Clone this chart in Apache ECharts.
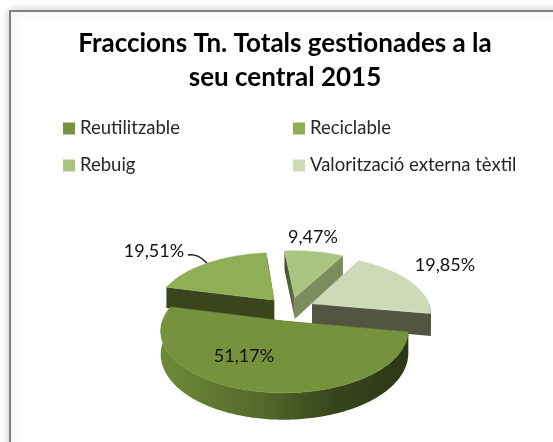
<!DOCTYPE html>
<html>
<head>
<meta charset="utf-8">
<style>
  html, body { margin: 0; padding: 0; background: #fff; }
  #chart { width: 553px; height: 442px; }
</style>
<script src="https://cdn.jsdelivr.net/npm/echarts@6/dist/echarts.min.js"></script>
</head>
<body>
<div id="chart"></div>
<script>
const titleText = 'Fraccions Tn. Totals gestionades a la\nseu central 2015';
const categories = ['Reutilitzable', 'Reciclable', 'Rebuig', 'Valorització externa tèxtil'];
const values = [51.17, 19.51, 9.47, 19.85];

// styling, same order as categories
const topColors = ['#76923c', '#8fae55', '#abc482', '#cdd9b7'];
const edgeColors = ['#3a451e', '#3a451e', '#7b8d5c', '#52553f'];
const labelAt = [[244, 356], [154, 251], [313, 237], [445, 265]];
const paintOrder = [2, 1, 3, 0];

// the tilted disc with a bit of perspective
const disc = { cx: 290, cy: 309, rx: 118.5, ry: 57, persp: 0.15, depth: 22, explode: 0.21, start: 10 };
const rad = (d) => (d * Math.PI) / 180;
const total = values.reduce((a, b) => a + b, 0);

const sliceAngles = (i) => {
  const before = values.slice(0, i).reduce((a, b) => a + b, 0);
  const from = disc.start + (before / total) * 360;
  return [from, from + (values[i] / total) * 360];
};

const project = (u, v, low) => {
  const w = 1 / (1 - disc.persp * v);
  return [
    disc.cx + disc.rx * u * w,
    disc.cy + disc.ry * v * w + (low ? disc.depth * w : 0),
  ];
};

const renderSlice = (i) => () => {
  const [from, to] = sliceAngles(i);
  const mid = rad((from + to) / 2);
  const ox = disc.explode * Math.cos(mid);
  const oy = disc.explode * Math.sin(mid);
  const rim = (a, low) => project(ox + Math.cos(rad(a)), oy + Math.sin(rad(a)), low);
  const apex = (low) => project(ox, oy, low);

  const topPts = [apex(false)];
  const frontUp = [];
  const frontLow = [];
  for (let a = from; a <= to + 0.001; a += 1) {
    topPts.push(rim(a, false));
    const s = Math.sin(rad(a));
    if (s >= -0.02) {
      frontUp.push(rim(a, false));
      frontLow.unshift(rim(a, true));
    }
  }

  const children = [];
  const edgeFill = i === 2
    ? new echarts.graphic.LinearGradient(0, 0, 1, 0, [
        { offset: 0, color: '#3f4c28' },
        { offset: 1, color: '#66784a' },
      ])
    : edgeColors[i];
  [from, to].forEach((a, k) => {
    children.push({
      type: 'polygon',
      shape: { points: [apex(false), rim(a, false), rim(a, true), apex(true)] },
      style: { fill: k === 0 ? edgeFill : edgeColors[i] },
    });
  });
  if (frontUp.length > 1) {
    children.push({
      type: 'polygon',
      shape: { points: frontUp.concat(frontLow) },
      style: {
        fill: i === 0
          ? new echarts.graphic.LinearGradient(0, 0, 1, 0, [
              { offset: 0, color: '#6f8a39' },
              { offset: 0.4, color: '#546a2b' },
              { offset: 0.7, color: '#37451c' },
              { offset: 1, color: '#2c3716' },
            ])
          : edgeColors[i],
      },
    });
  }
  children.push({
    type: 'polygon',
    shape: { points: topPts },
    style: { fill: topColors[i], stroke: topColors[i], lineWidth: 0.5 },
  });
  if (i === 1) {
    // leader line of the 19,51% label
    children.push({
      type: 'bezierCurve',
      shape: { x1: 188, y1: 255, x2: 207, y2: 263, cpx1: 196, cpy1: 254, cpx2: 201, cpy2: 257 },
      style: { stroke: '#1a1a1a', lineWidth: 1.4, fill: null },
    });
  }
  children.push({
    type: 'text',
    z2: 100,
    style: {
      text: values[i].toFixed(2).replace('.', ',') + '%',
      x: labelAt[i][0],
      y: labelAt[i][1],
      align: 'center',
      verticalAlign: 'middle',
      font: '18px Lato',
      fill: '#111',
    },
  });
  return { type: 'group', children };
};

const legendBase = {
  orient: 'vertical',
  top: 114,
  itemGap: 18,
  itemWidth: 12,
  itemHeight: 12,
  selectedMode: false,
  icon: 'rect',
  textStyle: { fontFamily: 'Lato', fontSize: 18.5, color: '#262626' },
};

const chart = echarts.init(document.getElementById('chart'));

const option = {
  animation: false,
  graphic: [
    {
      type: 'rect',
      z: -9,
      silent: true,
      shape: { x: 10, y: 11, width: 600, height: 500 },
      style: {
        fill: '#fff',
        stroke: '#808080',
        lineWidth: 2,
        shadowBlur: 10,
        shadowColor: 'rgba(0, 0, 0, 0.2)',
      },
    },
  ],
  title: {
    text: titleText,
    left: 280,
    top: 22,
    textAlign: 'center',
    textStyle: { fontFamily: 'Lato', fontSize: 26, fontWeight: 'bold', color: '#000', lineHeight: 34 },
  },
  legend: [
    { ...legendBase, left: 58, data: [categories[0], categories[2]] },
    { ...legendBase, left: 288, data: [categories[1], categories[3]] },
  ],
  series: paintOrder.map((i, order) => ({
    type: 'custom',
    name: categories[i],
    coordinateSystem: 'none',
    z: 2 + order,
    silent: true,
    itemStyle: { color: topColors[i] },
    data: [values[i]],
    renderItem: renderSlice(i),
  })),
};

chart.setOption(option);
</script>
</body>
</html>
